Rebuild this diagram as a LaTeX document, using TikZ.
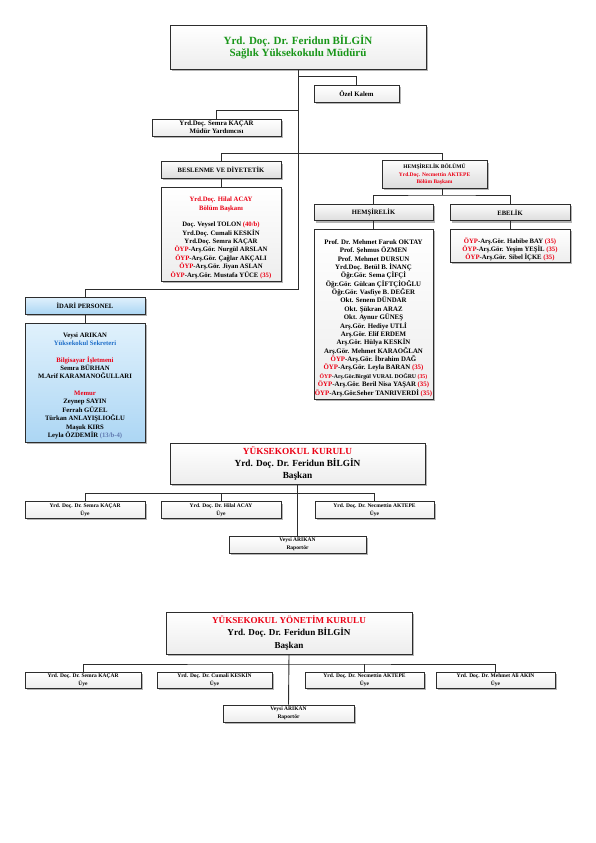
\documentclass[tikz,border=0pt]{standalone}
\usepackage{fontspec}
\setmainfont{Liberation Serif}
\usetikzlibrary{shadows}
\definecolor{lineC}{RGB}{45,45,45}
\definecolor{grn}{RGB}{25,150,25}
\definecolor{rd}{RGB}{235,0,20}
\definecolor{blu}{RGB}{30,110,200}
\definecolor{gblu}{RGB}{95,120,175}
\definecolor{shad}{RGB}{180,180,180}
\definecolor{bltop}{RGB}{224,241,252}
\definecolor{blbot}{RGB}{172,214,244}
\newcommand\fsTop{\fontsize{11}{12.5}\selectfont\bfseries}
\newcommand\fsYK{\fontsize{9.3}{12}\selectfont\bfseries}
\newcommand\fsYYK{\fontsize{9.1}{12.5}\selectfont\bfseries}
\newcommand\fsM{\fontsize{6.7}{8.36}\selectfont\bfseries}
\newcommand\fsHm{\fontsize{6.85}{8.37}\selectfont\bfseries}
\newcommand\fsH{\fontsize{6.6}{8}\selectfont\bfseries}
\newcommand\fsS{\fontsize{6.8}{8}\selectfont\bfseries}
\newcommand\fsXS{\fontsize{5.5}{8}\selectfont\bfseries}
\newcommand\oyp{\textcolor{rd}{ÖYP}}
\newcommand\tfv{\textcolor{rd}{(35)}}
\tikzset{
  box/.style={draw=lineC, line width=0.9pt, top color=white, bottom color=gray!14,
    inner sep=0pt, align=center,
    drop shadow={shadow xshift=1.8pt, shadow yshift=-1.8pt, fill=shad, opacity=1}},
  hdr/.style={box, top color=gray!3, bottom color=gray!27},
  bluebox/.style={box, top color=bltop, bottom color=blbot},
  conn/.style={draw=lineC, line width=0.9pt},
  txt/.style={align=center, inner sep=0pt}
}
\begin{document}
\begin{tikzpicture}[x=1pt,y=-1pt]
\useasboundingbox (0,0) rectangle (596,843);
\fill[white] (0,0) rectangle (596,843);

% ---------- top part ----------
\node[box, minimum width=256, minimum height=44, font=\fsTop, text=grn] (top) at (298,47)
  {Yrd. Doç. Dr. Feridun BİLGİN\\Sağlık Yüksekokulu Müdürü};
\node[box, minimum width=85, minimum height=17, font=\fsS] (ozel) at (356.5,93.5) {Özel Kalem};
\node[box, minimum width=129, minimum height=17, font=\fsS] (myrd) at (216.5,127.5)
  {Yrd.Doç. Semra KAÇAR\\Müdür Yardımcısı};

% Beslenme
\node[hdr, minimum width=120, minimum height=16.6, font=\fsH] (bdh) at (221,170) {BESLENME VE DİYETETİK};
\node[box, minimum width=120, minimum height=94] (bdb) at (221,234) {};
\node[txt, font=\fsM] (bdt) at (221,237.8) {%
  \textcolor{rd}{Yrd.Doç. Hilal ACAY}\\
  \textcolor{rd}{Bölüm Başkanı}\\[8.36pt]
  Doç. Veysel TOLON \textcolor{rd}{(40/b)}\\
  Yrd.Doç. Cumali KESKİN\\
  Yrd.Doç. Semra KAÇAR\\
  \oyp-Arş.Gör. Nurgül ARSLAN\\
  \oyp-Arş.Gör. Çağlar AKÇALI\\
  \oyp-Arş.Gör. Jiyan ASLAN\\
  \oyp-Arş.Gör. Mustafa YÜCE \tfv};

% Hemşirelik bölümü
\node[hdr, minimum width=105, minimum height=27.5, font=\fontsize{5.5}{7.5}\selectfont\bfseries] (hb) at (434.5,174.5)
  {HEMŞİRELİK BÖLÜMÜ\\\textcolor{rd}{Yrd.Doç. Necmettin AKTEPE}\\\textcolor{rd}{Bölüm Başkanı}};
\node[hdr, minimum width=119, minimum height=16.5, font=\fsH] (hh) at (373.5,212.5) {HEMŞİRELİK};
\node[hdr, minimum width=120, minimum height=16.5, font=\fsH] (eh) at (510,212.5) {EBELİK};
\node[box, minimum width=119, minimum height=170] (hbody) at (373.5,314) {};
\node[txt, font=\fsHm] (htxt) at (373.5,318) {%
  Prof. Dr. Mehmet Faruk OKTAY\\
  Prof. Şehmus ÖZMEN\\
  Prof. Mehmet DURSUN\\
  Yrd.Doç. Betül B. İNANÇ\\
  Öğr.Gör. Sema ÇİFÇİ\\
  Öğr.Gör. Gülcan ÇİFTÇİOĞLU\\
  Öğr.Gör. Vasfiye B. DEĞER\\
  Okt. Senem DÜNDAR\\
  Okt. Şükran ARAZ\\
  Okt. Aynur GÜNEŞ\\
  Arş.Gör. Hediye UTLİ\\
  Arş.Gör. Elif ERDEM\\
  Arş.Gör. Hülya KESKİN\\
  Arş.Gör. Mehmet KARAOĞLAN\\
  \oyp-Arş.Gör. İbrahim DAĞ\\
  \oyp-Arş.Gör. Leyla BARAN \tfv\\
  {\fontsize{5.8}{8.37}\selectfont\oyp-Arş.Gör.Birgül VURAL DOĞRU \tfv}\\
  \oyp-Arş.Gör. Beril Nisa YAŞAR \tfv\\
  \oyp-Arş.Gör.Seher TANRIVERDİ \tfv};
\node[box, minimum width=120, minimum height=33.5] (ebody) at (510,245.8) {};
\node[txt, font=\fsM] (etxt) at (510,249.5) {%
  \oyp-Arş.Gör. Habibe BAY \tfv\\
  \oyp-Arş.Gör. Yeşim YEŞİL \tfv\\
  \oyp-Arş.Gör. Sibel İÇKE \tfv};

% İdari personel
\node[bluebox, minimum width=120, minimum height=17, font=\fsH] (idh) at (85,305.5) {İDARİ PERSONEL};
\node[bluebox, minimum width=120, minimum height=119] (idb) at (85,382.5) {};
\node[txt, font=\fsM] (idt) at (85,385.6) {%
  Veysi ARIKAN\\
  \textcolor{blu}{Yüksekokul Sekreteri}\\[8.36pt]
  \textcolor{rd}{Bilgisayar İşletmeni}\\
  Semra BÜRHAN\\
  M.Arif KARAMANOĞULLARI\\[8.36pt]
  \textcolor{rd}{Memur}\\
  Zeynep SAYIN\\
  Ferrah GÜZEL\\
  Türkan ANLAYIŞLIOĞLU\\
  Maşuk KIRS\\
  Leyla ÖZDEMİR \textcolor{gblu}{(13/b-4)}};

% connectors top part
\coordinate (jO) at (298,76.3);
\coordinate (jM) at (298,110);
\coordinate (jB) at (298,153.3);
\coordinate (jI) at (298,289);
\coordinate (jH) at (442,195);
\draw[conn] (top.south) -- (jI) -| (idh.north);
\draw[conn] (jO) -| (ozel.north);
\draw[conn] (jM) -| (myrd.north);
\draw[conn] (bdh.north) |- (jB) -| (hb.north -| jH);
\draw[conn] (bdh.south) -- (bdb.north);
\draw[conn] (hb.south -| jH) -- (jH);
\draw[conn] (hh.north) |- (jH) -| (eh.north);
\draw[conn] (hh.south) -- (hbody.north);
\draw[conn] (eh.south) -- (ebody.north);
\draw[conn] (idh.south) -- (idb.north);

% ---------- Yüksekokul Kurulu ----------
\node[box, minimum width=255, minimum height=41, font=\fsYK] (yk) at (297.5,463.5)
  {\textcolor{rd}{YÜKSEKOKUL KURULU}\\Yrd. Doç. Dr. Feridun BİLGİN\\Başkan};
\node[box, minimum width=120, minimum height=16.5, font=\fsXS] (ykm1) at (85,510) {Yrd. Doç. Dr. Semra KAÇAR\\Üye};
\node[box, minimum width=120, minimum height=16.5, font=\fsXS] (ykm2) at (221,510) {Yrd. Doç. Dr. Hilal ACAY\\Üye};
\node[box, minimum width=119, minimum height=16.5, font=\fsXS] (ykm3) at (374.5,510) {Yrd. Doç. Dr. Necmettin AKTEPE\\Üye};
\node[box, minimum width=137, minimum height=17, font=\fsXS] (ykr) at (297.5,544.5) {Veysi ARIKAN\\Raportör};
\coordinate (jY) at (297.5,493.3);
\draw[conn] (yk.south) -- (ykr.north);
\draw[conn] (ykm1.north) |- (jY) -| (ykm3.north);
\draw[conn] (ykm2.north) -- (ykm2.north |- jY);

% ---------- Yüksekokul Yönetim Kurulu ----------
\node[box, minimum width=246, minimum height=42, font=\fsYYK] (yyk) at (289,633)
  {\textcolor{rd}{YÜKSEKOKUL YÖNETİM KURULU}\\Yrd. Doç. Dr. Feridun BİLGİN\\Başkan};
\node[box, minimum width=116, minimum height=16, font=\fsXS] (yykm1) at (83,680) {Yrd. Doç. Dr. Semra KAÇAR\\Üye};
\node[box, minimum width=115, minimum height=16, font=\fsXS] (yykm2) at (214.5,680) {Yrd. Doç. Dr. Cumali KESKİN\\Üye};
\node[box, minimum width=119, minimum height=16, font=\fsXS] (yykm3) at (364.5,680) {Yrd. Doç. Dr. Necmettin AKTEPE\\Üye};
\node[box, minimum width=119, minimum height=16, font=\fsXS] (yykm4) at (495.5,680) {Yrd. Doç. Dr. Mehmet Ali AKIN\\Üye};
\node[box, minimum width=131, minimum height=17, font=\fsXS] (yykr) at (288.5,713.5) {Veysi ARIKAN\\Raportör};
\coordinate (jZ) at (289,664);
\draw[conn] (yyk.south) -- (yykr.north);
\draw[conn] (yykm1.north) |- (jZ) -| (yykm4.north);
\draw[conn] (yykm3.north) -- (yykm3.north |- jZ);
\end{tikzpicture}
\end{document}
